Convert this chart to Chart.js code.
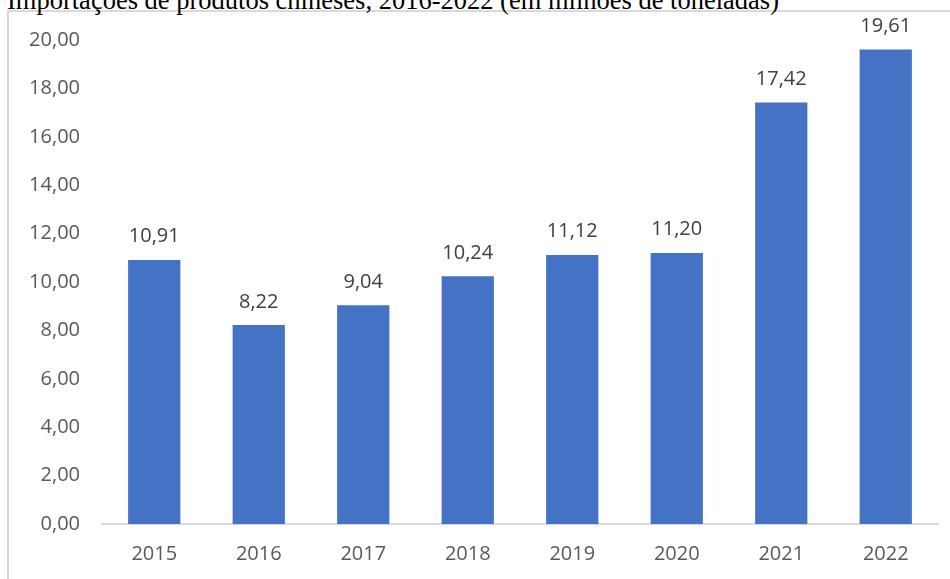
<!DOCTYPE html>
<html>
<head>
<meta charset="utf-8">
<script src="https://cdn.jsdelivr.net/npm/chart.js@4/dist/chart.umd.min.js"></script>
<style>
  html, body { margin: 0; padding: 0; background: #fff; overflow: hidden; }
  #wrap { position: relative; width: 950px; height: 579px; overflow: hidden; }
  #frame { position: absolute; left: 7px; top: 10px; width: 2000px; height: 2000px;
           border-top: 2px solid #d9d9d9; border-left: 2px solid #d9d9d9; box-sizing: border-box; }
  #title { position: absolute; left: 7px; top: -13px; font-family: "Liberation Serif", "Times New Roman", serif;
           font-size: 26.5px; line-height: 26.5px; color: #000; white-space: nowrap; }
  canvas { position: absolute; left: 0; top: 0; }
</style>
</head>
<body>
<div id="wrap">
  <div id="frame"></div>
  <div id="title">Importações de produtos chineses, 2016-2022 (em milhões de toneladas)</div>
  <canvas id="c" width="950" height="579"></canvas>
</div>
<script>
const categories = ["2015", "2016", "2017", "2018", "2019", "2020", "2021", "2022"];
const imports = [10.91, 8.22, 9.04, 10.24, 11.12, 11.20, 17.42, 19.61];
const yTicks = [0, 2, 4, 6, 8, 10, 12, 14, 16, 18, 20];

const fmt = v => v.toFixed(2).replace('.', ',');

const labelPlugin = {
  id: 'barLabels',
  afterDatasetsDraw(chart) {
    const ctx = chart.ctx;
    const meta = chart.getDatasetMeta(0);
    ctx.save();
    ctx.font = '20px "Open Sans"';
    ctx.fillStyle = '#404040';
    ctx.textAlign = 'center';
    ctx.textBaseline = 'alphabetic';
    meta.data.forEach((bar, i) => {
      ctx.fillText(fmt(imports[i]), bar.x, bar.y - 17.5);
    });
    ctx.restore();
  }
};

new Chart(document.getElementById('c'), {
  type: 'bar',
  data: {
    labels: categories,
    datasets: [{
      data: imports,
      backgroundColor: '#4472C4',
      borderWidth: 0,
      barPercentage: 0.5,
      categoryPercentage: 1.0
    }]
  },
  options: {
    responsive: false,
    animation: false,
    layout: { padding: { top: 40, right: 12, bottom: 0, left: 0 } },
    plugins: { legend: { display: false }, tooltip: { enabled: false }, title: { display: false } },
    scales: {
      x: {
        grid: { display: false, drawTicks: false },
        border: { display: true, color: '#d9d9d9', width: 2 },
        ticks: { color: '#595959', font: { family: 'Open Sans', size: 20 }, padding: 18 },
        afterFit(s) { s.height = 55; }
      },
      y: {
        min: 0, max: 20,
        afterBuildTicks(s) { s.ticks = yTicks.map(v => ({ value: v })); },
        grid: { display: false, drawTicks: false },
        border: { display: false },
        ticks: { color: '#595959', font: { family: 'Open Sans', size: 20 }, padding: 22,
                 callback: v => fmt(v) },
        afterFit(s) { s.width = 102; }
      }
    }
  },
  plugins: [labelPlugin]
});
</script>
</body>
</html>
